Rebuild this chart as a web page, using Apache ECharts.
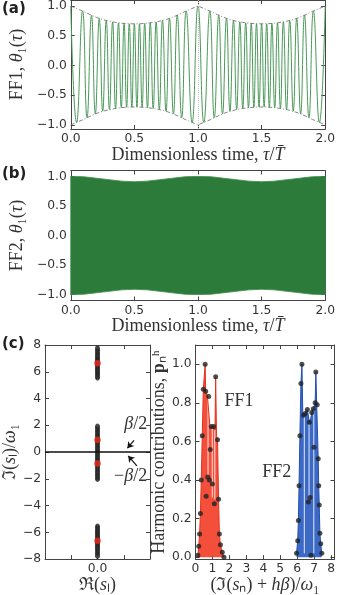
<!DOCTYPE html>
<html>
<head>
<meta charset="utf-8">
<script src="https://cdn.jsdelivr.net/npm/echarts@6/dist/echarts.min.js"></script>
<style>
  html, body { margin: 0; padding: 0; background: #fff; }
  #chart { width: 338px; height: 595px; }
</style>
</head>
<body>
<div id="chart"></div>
<script>
// ---- 数据 ----
// (a) FF1 时域信号：极值点（峰/谷交替）
const aTau = [
  0.000, 0.046, 0.093, 0.128, 0.163, 0.193, 0.224, 0.251, 0.279, 0.304, 0.329, 0.352,
  0.375, 0.397, 0.419, 0.439, 0.460, 0.480, 0.500, 0.520, 0.540, 0.561, 0.581, 0.603,
  0.625, 0.648, 0.671, 0.696, 0.721, 0.749, 0.776, 0.807, 0.837, 0.872, 0.907, 0.954,
  1.000, 1.046, 1.093, 1.128, 1.163, 1.193, 1.224, 1.251, 1.279, 1.304, 1.329, 1.352,
  1.375, 1.397, 1.419, 1.439, 1.460, 1.480, 1.500, 1.520, 1.540, 1.561, 1.581, 1.603,
  1.625, 1.648, 1.671, 1.696, 1.721, 1.749, 1.776, 1.807, 1.837, 1.872, 1.907, 1.954,
  2.000
];
const aTheta = [
  1.00, -0.96, 0.915, -0.88, 0.845, -0.815, 0.79, -0.77, 0.755, -0.74, 0.73, -0.722,
  0.715, -0.71, 0.705, -0.703, 0.70, -0.70, 0.70, -0.70, 0.70, -0.703, 0.705, -0.71,
  0.715, -0.722, 0.73, -0.74, 0.755, -0.77, 0.79, -0.815, 0.845, -0.88, 0.915, -0.96,
  1.00, -0.96, 0.915, -0.88, 0.845, -0.815, 0.79, -0.77, 0.755, -0.74, 0.73, -0.722,
  0.715, -0.71, 0.705, -0.703, 0.70, -0.70, 0.70, -0.70, 0.70, -0.703, 0.705, -0.71,
  0.715, -0.722, 0.73, -0.74, 0.755, -0.77, 0.79, -0.815, 0.845, -0.88, 0.915, -0.96,
  1.00
];
// (a) 包络线（点划线）
const envTauA = [
  0, 0.05, 0.1, 0.15, 0.2, 0.25, 0.3, 0.35, 0.4, 0.45, 0.5, 0.55, 0.6, 0.65, 0.7, 0.75, 0.8, 0.85, 0.9, 0.95,
  1.0, 1.05, 1.1, 1.15, 1.2, 1.25, 1.3, 1.35, 1.4, 1.45, 1.5, 1.55, 1.6, 1.65, 1.7, 1.75, 1.8, 1.85, 1.9, 1.95, 2.0
];
const envUpA = [
  1.0, 0.955, 0.91, 0.857, 0.81, 0.772, 0.745, 0.725, 0.71, 0.702, 0.70, 0.702, 0.71, 0.725, 0.745, 0.772, 0.81, 0.857, 0.91, 0.955,
  1.0, 0.955, 0.91, 0.857, 0.81, 0.772, 0.745, 0.725, 0.71, 0.702, 0.70, 0.702, 0.71, 0.725, 0.745, 0.772, 0.81, 0.857, 0.91, 0.955, 1.0
];
const envLowA = [
  -1.0, -0.955, -0.91, -0.857, -0.81, -0.772, -0.745, -0.725, -0.71, -0.702, -0.70, -0.702, -0.71, -0.725, -0.745, -0.772, -0.81, -0.857, -0.91, -0.955,
  -1.0, -0.955, -0.91, -0.857, -0.81, -0.772, -0.745, -0.725, -0.71, -0.702, -0.70, -0.702, -0.71, -0.725, -0.745, -0.772, -0.81, -0.857, -0.91, -0.955, -1.0
];

// (b) FF2：高频振荡，按包络带绘制
const bTau = [0, 0.1, 0.2, 0.3, 0.4, 0.5, 0.6, 0.7, 0.8, 0.9, 1.0, 1.1, 1.2, 1.3, 1.4, 1.5, 1.6, 1.7, 1.8, 1.9, 2.0];
const bUp  = [1.0, 0.995, 0.97, 0.945, 0.92, 0.91, 0.92, 0.945, 0.97, 0.995, 1.0, 0.995, 0.97, 0.945, 0.92, 0.91, 0.92, 0.945, 0.97, 0.995, 1.0];
const bLow = [-1.0, -0.995, -0.97, -0.945, -0.92, -0.91, -0.92, -0.945, -0.97, -0.995, -1.0, -0.995, -0.97, -0.945, -0.92, -0.91, -0.92, -0.945, -0.97, -0.995, -1.0];

// (c) 左：特征值虚部（Re = 0）
const cUpperY = [5.52, 5.62, 5.72, 5.82, 5.91, 6.0, 6.09, 6.18, 6.27, 6.36, 6.45, 6.53, 6.6, 6.68, 6.76, 6.84, 6.93, 7.02, 7.11, 7.2, 7.3, 7.4, 7.5, 7.6, 7.7, 7.8];
const cMidY = [-2.05, -1.95, -1.85, -1.75, -1.65, -1.55, -1.45, -1.35, -1.25, -1.15, -1.05, -0.95, -0.85, -0.75, -0.65, -0.55, -0.45, -0.35, -0.25, -0.15, -0.05,
  0.05, 0.15, 0.25, 0.35, 0.45, 0.55, 0.65, 0.75, 0.85, 0.95, 1.05, 1.15, 1.25, 1.35, 1.45, 1.55, 1.65, 1.75, 1.85, 1.95];
const cLowerY = [-5.52, -5.62, -5.72, -5.82, -5.91, -6.0, -6.09, -6.18, -6.27, -6.36, -6.45, -6.53, -6.6, -6.68, -6.76, -6.84, -6.93, -7.02, -7.11, -7.2, -7.3, -7.4, -7.5, -7.6, -7.7, -7.8];
const cRedY = [6.64, 0.90, -0.86, -6.62];

// (c) 右：谐波贡献（黑点）
const ff1X = [0.14, 0.19, 0.24, 0.29, 0.34, 0.40, 0.46, 0.57, 0.60, 0.63, 0.72, 0.78, 0.82, 0.87, 0.93, 1.00, 1.07, 1.11, 1.19, 1.30, 1.36, 1.41, 1.47, 1.58, 1.68];
const ff1P = [0.01, 0.056, 0.12, 0.226, 0.40, 0.63, 0.87, 1.00, 0.86, 0.316, 0.415, 0.833, 0.40, 0.558, 0.677, 0.38, 0.677, 0.277, 0.935, 0.609, 0.30, 0.12, 0.065, 0.025, 0.0];
const ff2X = [5.96, 6.03, 6.07, 6.11, 6.16, 6.22, 6.28, 6.37, 6.47, 6.60, 6.66, 6.72, 6.76, 6.81, 6.86, 6.95, 6.99, 7.06, 7.10, 7.18, 7.24, 7.27, 7.30, 7.34, 7.39, 7.45];
const ff2P = [0.02, 0.085, 0.19, 0.37, 0.63, 0.90, 1.00, 0.736, 0.745, 0.765, 0.286, 0.70, 0.31, 0.01, 0.75, 0.77, 0.57, 0.80, 0.96, 0.79, 0.51, 0.37, 0.27, 0.124, 0.07, 0.02];
// 填充区域外轮廓
const ff1EdgeX = [0.14, 0.19, 0.24, 0.29, 0.34, 0.40, 0.46, 0.57, 0.60, 0.70, 0.78, 0.86, 0.93, 1.07, 1.15, 1.19, 1.24, 1.30, 1.36, 1.41, 1.47, 1.58, 1.68];
const ff1EdgeP = [0.0, 0.056, 0.12, 0.226, 0.40, 0.63, 0.87, 1.00, 0.86, 0.84, 0.833, 0.67, 0.677, 0.677, 0.66, 0.935, 0.63, 0.609, 0.30, 0.12, 0.065, 0.025, 0.0];
const ff2EdgeX = [5.96, 6.03, 6.07, 6.11, 6.16, 6.22, 6.28, 6.33, 6.37, 6.47, 6.60, 6.72, 6.80, 6.86, 6.95, 7.06, 7.10, 7.15, 7.18, 7.24, 7.27, 7.30, 7.34, 7.39, 7.45];
const ff2EdgeP = [0.02, 0.085, 0.19, 0.37, 0.63, 0.90, 1.00, 0.75, 0.736, 0.745, 0.765, 0.70, 0.72, 0.75, 0.77, 0.80, 0.96, 0.80, 0.79, 0.51, 0.37, 0.27, 0.124, 0.07, 0.02];
// 填充中的白色细缝
const slitX   = [0.74, 0.99, 1.14, 6.42, 6.70, 6.98];
const slitTop = [0.83, 0.67, 0.66, 0.73, 0.69, 0.78];
const slitBot = [0.41, 0.31, 0.30, 0.02, 0.30, 0.02];

// 刻度
const ticksTime = [0, 0.5, 1.0, 1.5, 2.0];
const ticksTheta = [-1, -0.5, 0, 0.5, 1];
const ticksImag = [-8, -6, -4, -2, 0, 2, 4, 6, 8];
const ticksRe = [-1, 0, 1];
const ticksFreq = [0, 1, 2, 3, 4, 5, 6, 7, 8];
const ticksP = [0, 0.2, 0.4, 0.6, 0.8, 1.0];

// ---- 样式 ----
const SANS = 'DejaVu Sans', SERIF = 'Liberation Serif';
const FRAME = '#444', TXT = '#333';
const fmt1 = (v) => (v < 0 ? '\u2212' : '') + Math.abs(v).toFixed(1);
const fmtInt = (v) => (v < 0 ? '\u2212' : '') + Math.abs(v);

function rich(size) {
  return {
    i: { fontFamily: SERIF, fontStyle: 'italic', fontSize: size, color: TXT },
    b: { fontFamily: SERIF, fontWeight: 'bold', fontSize: size, color: TXT },
  };
}

function axis(kind, grid, min, max, ticks, labels, fmt, name, gap) {
  const a = {
    type: 'value', gridIndex: grid, min, max, position: kind,
    axisLine: { show: true, onZero: false, lineStyle: { color: FRAME, width: 1 } },
    axisTick: { show: true, inside: true, length: 4, customValues: ticks, lineStyle: { color: FRAME } },
    axisLabel: { show: !!labels, customValues: labels || [], formatter: fmt, fontFamily: SANS, fontSize: 12.3, color: TXT, margin: 4 },
    splitLine: { show: false },
  };
  if (name) {
    a.name = name; a.nameLocation = 'middle'; a.nameGap = gap;
    a.nameTextStyle = { fontFamily: SERIF, fontSize: 18, color: TXT, rich: rich(18) };
  }
  return a;
}

const xAxes = [
  axis('bottom', 0, 0, 2, ticksTime, ticksTime, fmt1, 'Dimensionless time, {i|\u03c4}/{i|T\u0304}', 14),
  axis('top', 0, 0, 2, ticksTime),
  axis('bottom', 1, 0, 2, ticksTime, ticksTime, fmt1, 'Dimensionless time, {i|\u03c4}/{i|T\u0304}', 14),
  axis('top', 1, 0, 2, ticksTime),
  axis('bottom', 2, -2, 2, ticksRe, [0], fmt1, '\u211c({i|s}\u2097)', 10),
  axis('top', 2, -2, 2, ticksRe),
  axis('bottom', 3, 0, 8.2, ticksFreq, ticksFreq, fmtInt, '(\u2111({i|s}\u2099) + {i|h\u03b2})/{i|\u03c9}\u2081', 10),
  axis('top', 3, 0, 8.2, ticksFreq),
];
const yAxes = [
  axis('left', 0, -1.07, 1.1, ticksTheta, ticksTheta, fmt1, 'FF1, {i|\u03b8}\u2081({i|\u03c4})', 33),
  axis('right', 0, -1.07, 1.1, ticksTheta),
  axis('left', 1, -1.1, 1.1, ticksTheta, ticksTheta, fmt1, 'FF2, {i|\u03b8}\u2081({i|\u03c4})', 33),
  axis('right', 1, -1.1, 1.1, ticksTheta),
  axis('left', 2, -8, 8, ticksImag, ticksImag, fmtInt, '\u2111({i|s}\u2097)/{i|\u03c9}\u2081', 18),
  axis('right', 2, -8, 8, ticksImag),
  axis('left', 3, -0.01, 1.1, ticksP, ticksP, fmt1, 'Harmonic contributions, {b|p}\u2099\u02b0', 25),
  axis('right', 3, -0.01, 1.1, ticksP),
];

const annoLabel = { show: true, position: 'inside', formatter: '{b}', fontFamily: SERIF, fontSize: 18, color: TXT, rich: rich(18) };

const option = {
  animation: false,
  backgroundColor: '#fff',
  grid: [
    { left: 53, right: 5, top: 0, height: 129 },
    { left: 53, right: 5, top: 170.5, height: 130 },
    { left: 39, width: 111, top: 345, height: 218 },
    { left: 195.5, width: 140.5, top: 345, height: 218 },
  ],
  xAxis: xAxes,
  yAxis: yAxes,
  graphic: [
    { type: 'text', left: 2, top: 2, style: { text: '(a)', font: 'bold 15px "DejaVu Sans"', fill: '#222' } },
    { type: 'text', left: 2, top: 167, style: { text: '(b)', font: 'bold 15px "DejaVu Sans"', fill: '#222' } },
    { type: 'text', left: 2, top: 337, style: { text: '(c)', font: 'bold 15px "DejaVu Sans"', fill: '#222' } },
  ],
  series: [
    // (a)
    {
      type: 'line', xAxisIndex: 0, yAxisIndex: 0, smooth: 0.5, showSymbol: false,
      data: aTau.map((t, i) => [t, aTheta[i]]),
      lineStyle: { color: '#4a9858', width: 1 },
      markLine: { silent: true, symbol: 'none', label: { show: false }, data: [{ xAxis: 1 }], lineStyle: { type: 'dotted', color: '#c4c4c4', width: 1 } },
    },
    { type: 'line', xAxisIndex: 0, yAxisIndex: 0, showSymbol: false, data: envTauA.map((t, i) => [t, envUpA[i]]),
      lineStyle: { color: '#666', width: 0.8, type: [4, 2, 1, 2] } },
    { type: 'line', xAxisIndex: 0, yAxisIndex: 0, showSymbol: false, data: envTauA.map((t, i) => [t, envLowA[i]]),
      lineStyle: { color: '#666', width: 0.8, type: [4, 2, 1, 2] } },
    // (b)
    {
      type: 'custom', xAxisIndex: 2, yAxisIndex: 2, data: [[0, 0]],
      renderItem: (params, api) => {
        const pts = [];
        for (let i = 0; i < bTau.length; i++) pts.push(api.coord([bTau[i], bUp[i]]));
        for (let i = bTau.length - 1; i >= 0; i--) pts.push(api.coord([bTau[i], bLow[i]]));
        return { type: 'polygon', shape: { points: pts }, style: { fill: '#2c7b3a', stroke: '#3a8a48', lineWidth: 0.8 } };
      },
    },
    // (c) 左：黑点 + 箭头 + 文本
    {
      type: 'scatter', xAxisIndex: 4, yAxisIndex: 4, symbol: 'circle', symbolSize: 4,
      data: cUpperY.concat(cMidY, cLowerY).map((y) => [0, y]),
      itemStyle: { color: '#444', borderColor: '#111', borderWidth: 0.7 },
      markLine: {
        silent: true, label: { show: false }, symbol: ['none', 'arrow'], symbolSize: 6,
        data: [
          [{ coord: [1.39, 0.88] }, { coord: [1.14, 0.29] }],
          [{ coord: [1.50, -1.03] }, { coord: [1.17, -0.29] }],
        ],
        lineStyle: { color: '#111', width: 1.2, type: 'solid' },
      },
      markPoint: {
        silent: true, symbol: 'circle', symbolSize: 1, itemStyle: { color: 'rgba(0,0,0,0)' }, label: annoLabel,
        data: [
          { name: '{i|\u03b2}/2', coord: [1.46, 2.06] },
          { name: '\u2212{i|\u03b2}/2', coord: [1.26, -1.8] },
        ],
      },
    },
    {
      type: 'scatter', xAxisIndex: 4, yAxisIndex: 4, symbolSize: 6.5, z: 3,
      data: cRedY.map((y) => [0, y]), itemStyle: { color: '#ee2a1a' },
      markLine: {
        silent: true, label: { show: false }, symbol: 'none',
        data: [{ yAxis: 0 }],
        lineStyle: { color: '#111', width: 1.5, type: 'solid' },
      },
    },
    // (c) 右
    {
      type: 'line', xAxisIndex: 6, yAxisIndex: 6, showSymbol: false,
      data: ff1EdgeX.map((x, i) => [x, ff1EdgeP[i]]),
      lineStyle: { color: '#e8301c', width: 1 }, areaStyle: { color: '#f2402a', opacity: 0.92 },
    },
    {
      type: 'line', xAxisIndex: 6, yAxisIndex: 6, showSymbol: false,
      data: ff2EdgeX.map((x, i) => [x, ff2EdgeP[i]]),
      lineStyle: { color: '#2450b0', width: 1 }, areaStyle: { color: '#2a5cc0', opacity: 0.92 },
    },
    {
      type: 'custom', xAxisIndex: 6, yAxisIndex: 6, z: 3,
      data: slitX.map((x, i) => [x, slitTop[i], slitBot[i]]),
      renderItem: (params, api) => {
        const p1 = api.coord([api.value(0), api.value(1)]);
        const p2 = api.coord([api.value(0), api.value(2)]);
        return { type: 'line', shape: { x1: p1[0], y1: p1[1], x2: p2[0], y2: p2[1] }, style: { stroke: 'rgba(255,255,255,0.85)', lineWidth: 1 } };
      },
    },
    {
      type: 'scatter', xAxisIndex: 6, yAxisIndex: 6, symbolSize: 5, z: 4,
      data: ff1X.map((x, i) => [x, ff1P[i]]).concat(ff2X.map((x, i) => [x, ff2P[i]])),
      itemStyle: { color: '#222' },
      markPoint: {
        silent: true, symbol: 'circle', symbolSize: 1, itemStyle: { color: 'rgba(0,0,0,0)' }, label: annoLabel,
        data: [
          { name: 'FF1', coord: [2.57, 0.81] },
          { name: 'FF2', coord: [4.79, 0.44] },
        ],
      },
    },
  ],
};

const chart = echarts.init(document.getElementById('chart'));
chart.setOption(option);
</script>
</body>
</html>
